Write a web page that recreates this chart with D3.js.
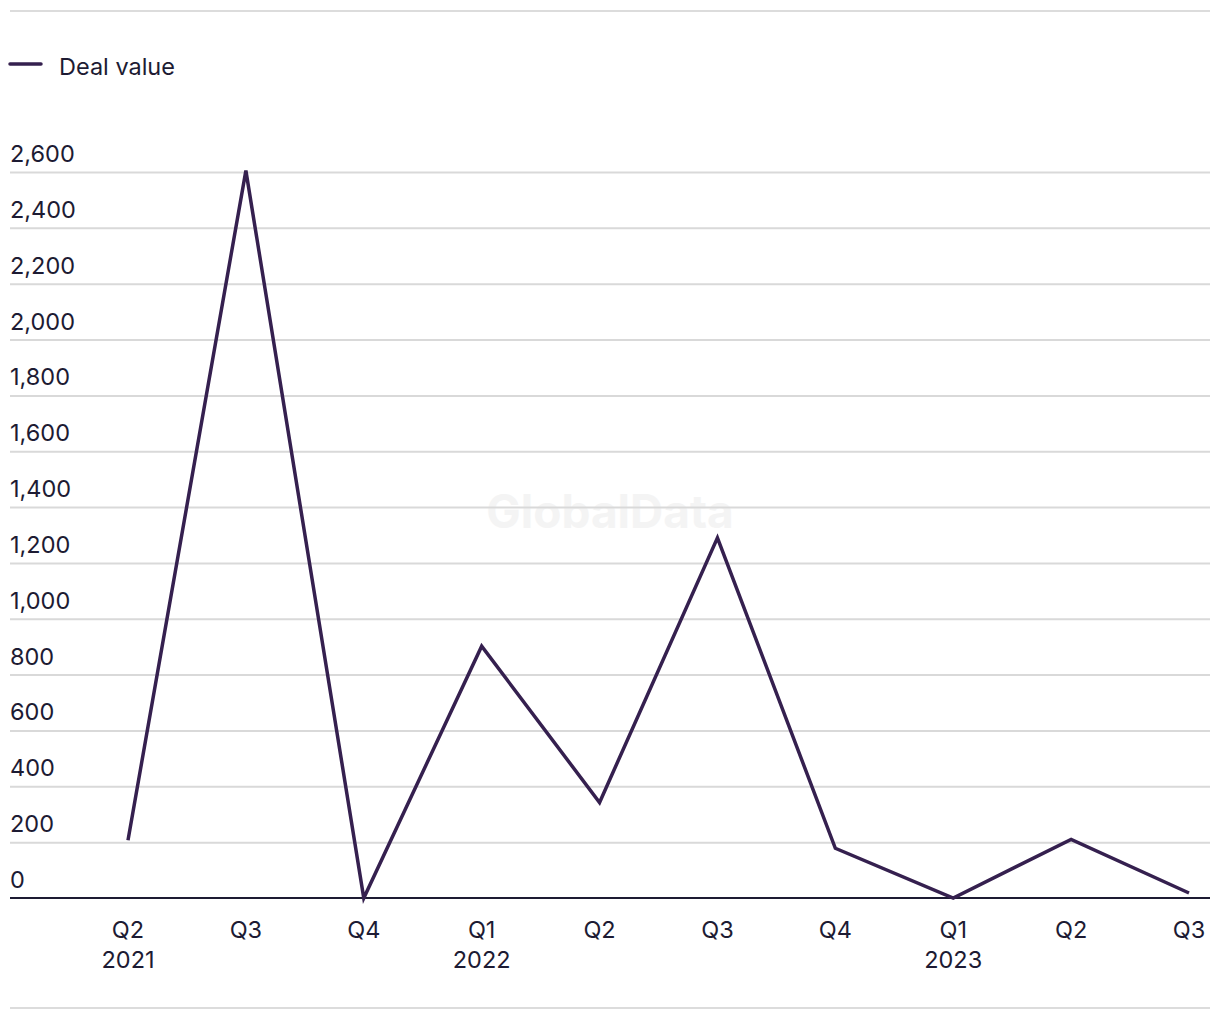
<!DOCTYPE html>
<html>
<head>
<meta charset="utf-8">
<script src="https://cdn.jsdelivr.net/npm/d3@7"></script>
<style>
  html, body { margin: 0; padding: 0; background: #fff; }
  svg { display: block; font-family: Inter, "Noto Sans", sans-serif; }
</style>
</head>
<body>
<svg id="chart" width="1220" height="1020"></svg>
<script>
const quarters = ["Q2", "Q3", "Q4", "Q1", "Q2", "Q3", "Q4", "Q1", "Q2", "Q3"];
const years = ["2021", "", "", "2022", "", "", "", "2023", "", ""];
const dealValue = [207, 2605, 0, 902, 342, 1290, 178, 0, 210, 18];
const yTicks = [0, 200, 400, 600, 800, 1000, 1200, 1400, 1600, 1800, 2000, 2200, 2400, 2600];
const seriesName = "Deal value";

const svg = d3.select("#chart");
const textColor = "#1d1b33";
const lineColor = "#35204f";
const fs = 23.5;

const idx = d3.range(quarters.length);
const x = d3.scalePoint().domain(idx).range([128, 1189]);
const y = d3.scaleLinear().domain([0, 2600]).range([898, 172]);

// frame lines
svg.append("line").attr("x1", 10).attr("x2", 1210).attr("y1", 11).attr("y2", 11)
  .attr("stroke", "#dcdcdc").attr("stroke-width", 2);
svg.append("line").attr("x1", 10).attr("x2", 1210).attr("y1", 1008).attr("y2", 1008)
  .attr("stroke", "#dcdcdc").attr("stroke-width", 2);

// legend
svg.append("line").attr("x1", 10).attr("x2", 41).attr("y1", 64).attr("y2", 64)
  .attr("stroke", lineColor).attr("stroke-width", 3.5).attr("stroke-linecap", "round");
svg.append("text").attr("x", 59).attr("y", 75).attr("fill", textColor)
  .attr("font-size", fs).text(seriesName);

// watermark
svg.append("text").attr("x", 610).attr("y", 528).attr("text-anchor", "middle")
  .attr("font-size", 46).attr("font-weight", "bold").attr("fill", "#f4f4f4")
  .text("GlobalData");

// y grid
const gy = svg.append("g").attr("transform", "translate(1210,0)")
  .call(d3.axisRight(y).tickValues(yTicks).tickSize(-1200).tickFormat(""));
gy.select(".domain").remove();
gy.selectAll(".tick line").attr("stroke", "#d9d9d9").attr("stroke-width", 2)
  .filter(d => d === 0).remove();

// y labels
svg.append("g").selectAll("text").data(yTicks).join("text")
  .attr("x", 10).attr("y", d => y(d) - 10)
  .attr("fill", textColor).attr("font-size", fs)
  .text(d => d3.format(",")(d));

// x axis
const gx = svg.append("g").attr("transform", "translate(0,898)")
  .call(d3.axisBottom(x).tickSize(0).tickFormat(""));
gx.select(".domain").remove();
svg.append("line").attr("x1", 10).attr("x2", 1210).attr("y1", 898).attr("y2", 898)
  .attr("stroke", textColor).attr("stroke-width", 2);

const xl = svg.append("g");
xl.selectAll("text.q").data(idx).join("text").attr("class", "q")
  .attr("x", d => x(d)).attr("y", 938).attr("text-anchor", "middle")
  .attr("fill", textColor).attr("font-size", fs).text(d => quarters[d]);
xl.selectAll("text.yr").data(idx.filter(i => years[i])).join("text").attr("class", "yr")
  .attr("x", d => x(d)).attr("y", 968).attr("text-anchor", "middle")
  .attr("fill", textColor).attr("font-size", fs).text(d => years[d]);

// line
const line = d3.line().x((d, i) => x(i)).y(d => y(d));
svg.append("path").datum(dealValue).attr("d", line)
  .attr("fill", "none").attr("stroke", lineColor).attr("stroke-width", 3.5)
  .attr("stroke-linejoin", "miter");
</script>
</body>
</html>
